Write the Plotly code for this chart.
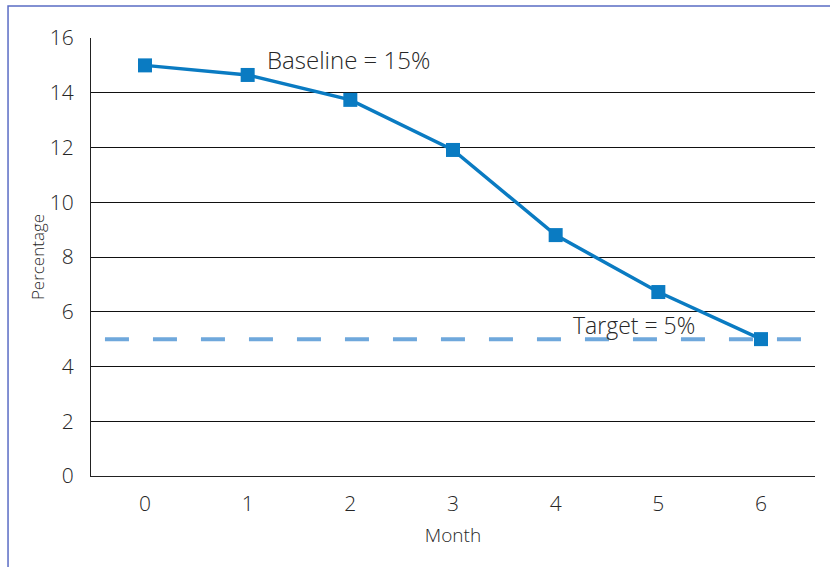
import plotly.graph_objects as go

# Monthly percentage against the baseline and target levels
months = [0, 1, 2, 3, 4, 5, 6]
percentage = [15.0, 14.65, 13.74, 11.91, 8.8, 6.72, 5.0]
baseline = 15
target = 5
target_span = [-0.39, 6.39]
y_ticks = [0, 2, 4, 6, 8, 10, 12, 14, 16]

FONT = "Open Sans, Noto Sans, sans-serif"
TEXT = "#262626"

fig = go.Figure()

# target level as a dashed line across the months
fig.add_trace(go.Scatter(
    x=target_span, y=[target, target], mode="lines",
    line=dict(color="#6fa8dc", width=4, dash="24px,24px"),
    hoverinfo="skip", showlegend=False,
))

# observed percentages
fig.add_trace(go.Scatter(
    x=months, y=percentage, mode="lines+markers",
    line=dict(color="#0a7bc2", width=3.5),
    marker=dict(symbol="square", size=14, color="#0a7bc2"),
    showlegend=False,
))

fig.add_annotation(x=1.17, y=15.2, text=f"Baseline = {baseline}%", showarrow=False,
                   xanchor="left", yanchor="middle",
                   font=dict(family=FONT, size=24, color=TEXT, weight=300))
fig.add_annotation(x=4.15, y=target + 0.52, text=f"Target = {target}%", showarrow=False,
                   xanchor="left", yanchor="middle",
                   font=dict(family=FONT, size=23, color=TEXT, weight=300))

# frame around the figure
fig.add_shape(type="rect", xref="paper", yref="paper",
              x0=-0.1146, x1=1.2, y0=-0.4, y1=1.073,
              line=dict(color="#5a6cc4", width=1.5), fillcolor="rgba(0,0,0,0)")

fig.update_layout(
    width=830, height=567,
    margin=dict(l=91, r=15, t=38, b=91),
    paper_bgcolor="white", plot_bgcolor="white",
    font=dict(family=FONT, color=TEXT),
    xaxis=dict(
        range=[-0.526, 6.526], tickmode="array", tickvals=months,
        showgrid=False, zeroline=False,
        showline=True, linecolor="#222", linewidth=1.3,
        ticks="", ticklabelstandoff=9,
        tickfont=dict(family=FONT, size=21, color=TEXT, weight=300),
        title=dict(text="Month", font=dict(family=FONT, size=19, color=TEXT, weight=300), standoff=12),
    ),
    yaxis=dict(
        range=[0, 16], tickmode="array", tickvals=y_ticks,
        showgrid=True, gridcolor="#111", gridwidth=1.2, zeroline=False,
        showline=True, linecolor="#222", linewidth=1.3,
        ticks="", ticklabelstandoff=12,
        tickfont=dict(family=FONT, size=21, color=TEXT, weight=300),
        title=dict(text="Percentage", font=dict(family=FONT, size=17, color=TEXT, weight=300), standoff=0),
    ),
)

fig.write_html("out.html")
